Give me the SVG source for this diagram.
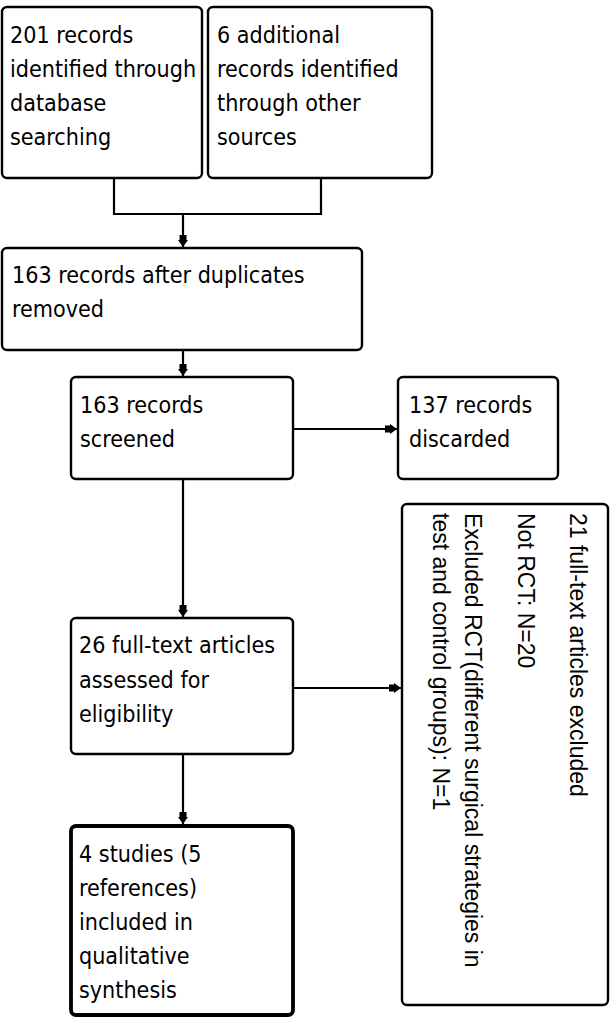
<svg xmlns="http://www.w3.org/2000/svg" width="614" height="1019" viewBox="0 0 614 1019">
<style>
.box{fill:#fff;stroke:#000;stroke-width:2.4}
.thick{stroke-width:3.8}
.t{font-family:"DejaVu Sans Condensed","DejaVu Sans",sans-serif;font-stretch:condensed;font-size:23.1px;fill:#000}
.r{font-family:"Liberation Sans",Arial,sans-serif;font-size:23px;fill:#000}
.c{fill:none;stroke:#000;stroke-width:2.2}
</style>
<defs>
<marker id="ah" markerUnits="userSpaceOnUse" markerWidth="14" markerHeight="12" refX="12" refY="6" orient="auto">
<path d="M0,2.5 L5,2.5 L5,1 L12,6 L5,11 L5,9.5 L0,9.5 Z" fill="#000"/>
</marker>
</defs>
<rect x="0" y="0" width="614" height="1019" fill="#fff"/>
<g id="connectors">
<polyline class="c" points="114,178 114,214 321,214 321,178"/>
<line class="c" x1="183" y1="214" x2="183" y2="247" marker-end="url(#ah)"/>
<line class="c" x1="183" y1="350" x2="183" y2="376" marker-end="url(#ah)"/>
<line class="c" x1="293" y1="429" x2="397" y2="429" marker-end="url(#ah)"/>
<line class="c" x1="183" y1="479" x2="183" y2="617" marker-end="url(#ah)"/>
<line class="c" x1="293" y1="688" x2="401" y2="688" marker-end="url(#ah)"/>
<line class="c" x1="183" y1="754" x2="183" y2="824" marker-end="url(#ah)"/>
</g>
<g id="n1">
<rect class="box" x="2" y="7" width="200" height="171" rx="5"/>
<text class="t" x="10" y="43">201 records</text>
<text class="t" x="10" y="77">identified through</text>
<text class="t" x="10" y="111">database</text>
<text class="t" x="10" y="145">searching</text>
</g>
<g id="n2">
<rect class="box" x="208" y="7" width="224" height="171" rx="5"/>
<text class="t" x="217" y="43">6 additional</text>
<text class="t" x="217" y="77">records identified</text>
<text class="t" x="217" y="111">through other</text>
<text class="t" x="217" y="145">sources</text>
</g>
<g id="n3">
<rect class="box" x="2" y="248" width="360" height="102" rx="5"/>
<text class="t" x="12" y="283">163 records after duplicates</text>
<text class="t" x="12" y="317">removed</text>
</g>
<g id="n4">
<rect class="box" x="71" y="377" width="222" height="102" rx="5"/>
<text class="t" x="80" y="413">163 records</text>
<text class="t" x="80" y="447">screened</text>
</g>
<g id="n5">
<rect class="box" x="398" y="377" width="160" height="102" rx="5"/>
<text class="t" x="409" y="413">137 records</text>
<text class="t" x="409" y="447">discarded</text>
</g>
<g id="n6">
<rect class="box" x="71" y="618" width="222" height="136" rx="5"/>
<text class="t" x="79" y="653">26 full-text articles</text>
<text class="t" x="79" y="688">assessed for</text>
<text class="t" x="79" y="722">eligibility</text>
</g>
<g id="n7">
<rect class="box thick" x="71" y="826" width="222" height="189" rx="5"/>
<text class="t" x="79" y="862">4 studies (5</text>
<text class="t" x="79" y="896">references)</text>
<text class="t" x="79" y="930">included in</text>
<text class="t" x="79" y="964">qualitative</text>
<text class="t" x="79" y="998">synthesis</text>
</g>
<g id="n8">
<rect class="box" x="402" y="504" width="206" height="501" rx="5"/>
<text class="r" transform="translate(570,513) rotate(90)">21 full-text articles excluded</text>
<text class="r" transform="translate(518,513) rotate(90)">Not RCT: N=20</text>
<text class="r" transform="translate(465,513) rotate(90)">Excluded RCT(different surgical strategies in</text>
<text class="r" transform="translate(433,513) rotate(90)">test and control groups): N=1</text>
</g>
</svg>
